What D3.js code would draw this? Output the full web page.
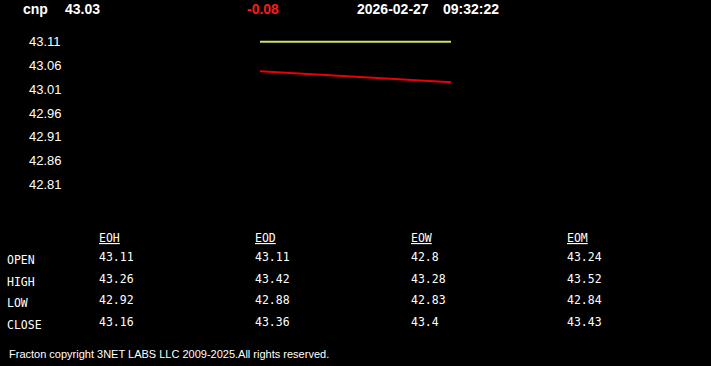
<!DOCTYPE html>
<html>
<head>
<meta charset="utf-8">
<script src="https://cdn.jsdelivr.net/npm/d3@7"></script>
<style>
  html, body { margin: 0; padding: 0; background: #000; overflow: hidden; }
  svg { display: block; }
</style>
</head>
<body>
<div id="chart"></div>
<script>
// header values
var symbol = 'cnp',
  lastPrice = '43.03',
  change = '-0.08',
  quoteDate = '2026-02-27',
  quoteTime = '09:32:22';

// price axis labels
var yTicks = [43.11, 43.06, 43.01, 42.96, 42.91, 42.86, 42.81];

// intraday series
var times = ['09:30', '09:32'];
var openLine = [43.11, 43.11];
var priceLine = [43.048, 43.025];

// summary table
var periods = ['EOH', 'EOD', 'EOW', 'EOM'];
var rowNames = ['OPEN', 'HIGH', 'LOW', 'CLOSE'];
var tableValues = [
  ['43.11', '43.26', '42.92', '43.16'],
  ['43.11', '43.42', '42.88', '43.36'],
  ['42.8', '43.28', '42.83', '43.4'],
  ['43.24', '43.52', '42.84', '43.43']
];

var footer = 'Fracton copyright 3NET LABS LLC 2009-2025.All rights reserved.';

var width = 711,
  height = 366;

var svg = d3.select('#chart')
  .append('svg')
  .attr('width', width)
  .attr('height', height)
  .style('background', '#000');

// header
var head = svg.append('g')
  .style('font-family', 'Arial, "Liberation Sans", sans-serif')
  .style('font-weight', 'bold')
  .style('font-size', '14px');

head.append('text').attr('x', 23).attr('y', 14).attr('fill', '#fff').text(symbol);
head.append('text').attr('x', 65).attr('y', 14).attr('fill', '#fff').text(lastPrice);
head.append('text').attr('x', 247).attr('y', 14).attr('fill', '#ff1a1a').text(change);
head.append('text').attr('x', 357).attr('y', 14).attr('fill', '#fff').text(quoteDate);
head.append('text').attr('x', 443).attr('y', 14).attr('fill', '#fff').text(quoteTime);

// scales
var y = d3.scaleLinear()
  .domain([42.81, 43.11])
  .range([184.2, 41.8]);

var x = d3.scalePoint()
  .domain(times)
  .range([260, 451]);

// y labels
svg.append('g')
  .style('font-family', 'Arial, "Liberation Sans", sans-serif')
  .style('font-size', '13px')
  .selectAll('text')
  .data(yTicks)
  .enter()
  .append('text')
  .attr('x', 29)
  .attr('y', function(d) { return y(d); })
  .attr('dy', '0.36em')
  .attr('fill', '#fff')
  .text(function(d) { return d.toFixed(2); });

var line = d3.line()
  .x(function(d, i) { return x(times[i]); })
  .y(function(d) { return y(d); });

svg.append('path')
  .datum(openLine)
  .attr('d', line)
  .attr('fill', 'none')
  .attr('stroke', '#cfdf66')
  .attr('stroke-width', 2);

svg.append('path')
  .datum(priceLine)
  .attr('d', line)
  .attr('fill', 'none')
  .attr('stroke', '#e8000b')
  .attr('stroke-width', 2);

// table
var colX = d3.scalePoint().domain(periods).range([99, 567]);
var rowY = d3.scalePoint().domain(rowNames).range([264, 329]);

var table = svg.append('g')
  .style('font-family', '"DejaVu Sans Mono", "Liberation Mono", monospace')
  .style('font-size', '11.5px')
  .attr('fill', '#fff');

table.selectAll('text.head')
  .data(periods)
  .enter()
  .append('text')
  .classed('head', true)
  .attr('x', function(d) { return colX(d); })
  .attr('y', 242)
  .style('text-decoration', 'underline')
  .text(function(d) { return d; });

table.selectAll('text.row')
  .data(rowNames)
  .enter()
  .append('text')
  .classed('row', true)
  .attr('x', 7)
  .attr('y', function(d) { return rowY(d); })
  .text(function(d) { return d; });

periods.forEach(function(p, c) {
  table.selectAll('text.c' + c)
    .data(tableValues[c])
    .enter()
    .append('text')
    .classed('c' + c, true)
    .attr('x', colX(p))
    .attr('y', function(d, i) { return rowY(rowNames[i]) - 3; })
    .text(function(d) { return d; });
});

// footer
svg.append('text')
  .attr('x', 9)
  .attr('y', 358)
  .attr('fill', '#fff')
  .style('font-family', 'Arial, "Liberation Sans", sans-serif')
  .style('font-size', '11px')
  .text(footer);
</script>
</body>
</html>
